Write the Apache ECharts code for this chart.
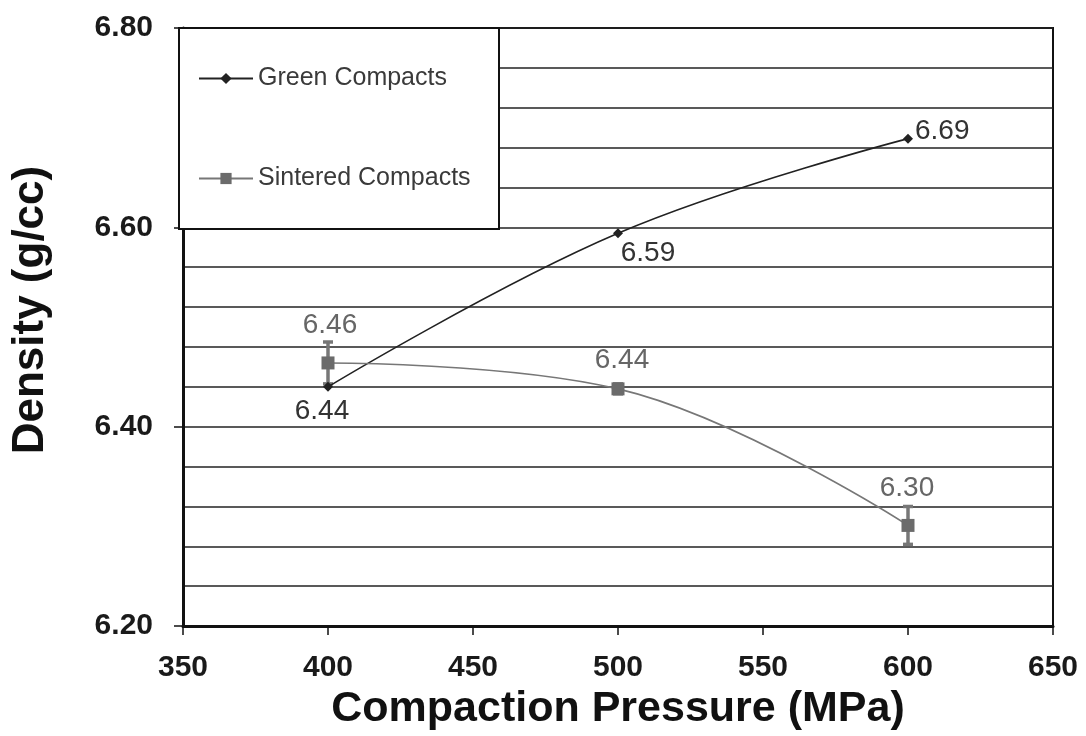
<!DOCTYPE html>
<html><head><meta charset="utf-8">
<script src="https://cdn.jsdelivr.net/npm/echarts@6/dist/echarts.min.js"></script>
<style>html,body{margin:0;padding:0;background:#fff}#c{width:1086px;height:736px}</style>
</head><body><div id="c"></div>
<script>
const pressures = [400, 500, 600];
const greenDensity = [6.44, 6.594, 6.689];
const greenLabels = ['6.44', '6.59', '6.69'];
const sinteredDensity = [6.464, 6.438, 6.301];
const sinteredLabels = ['6.46', '6.44', '6.30'];
const sinteredError = [0.021, 0.005, 0.019];
const seriesNames = ['Green Compacts', 'Sintered Compacts'];
const xTitle = 'Compaction Pressure (MPa)';
const yTitle = 'Density (g/cc)';

const FONT = '"Liberation Sans", Arial, sans-serif';
const greenLabelStyle = [
  {position: 'bottom', distance: 5, offset: [-6, 0]},
  {position: 'bottom', distance: 1, offset: [30, 0]},
  {position: 'right', distance: 2, offset: [0, -7]}
];
const sinteredLabelStyle = [
  {position: 'top', distance: 17, offset: [2, 0]},
  {position: 'top', distance: 8, offset: [4, 0]},
  {position: 'top', distance: 17, offset: [-1, 0]}
];

const chart = echarts.init(document.getElementById('c'));
const greenData = pressures.map((p, i) => ({value: [p, greenDensity[i]], label: Object.assign({formatter: greenLabels[i]}, greenLabelStyle[i])}));
const sinteredData = pressures.map((p, i) => ({value: [p, sinteredDensity[i]], label: Object.assign({formatter: sinteredLabels[i]}, sinteredLabelStyle[i])}));
const errData = pressures.map((p, i) => [p, sinteredDensity[i] - sinteredError[i], sinteredDensity[i] + sinteredError[i]]);

chart.setOption({
  backgroundColor: '#fff',
  animation: false,
  textStyle: {fontFamily: FONT},
  grid: {left: 183, right: 33, top: 28, bottom: 106, show: true, borderColor: '#111', borderWidth: 2, backgroundColor: '#fff'},
  graphic: [{
    type: 'rect', z: 50, left: 178, top: 27,
    shape: {width: 320, height: 201},
    style: {fill: '#fff', stroke: '#111', lineWidth: 2}
  }],
  legend: {
    z: 60, orient: 'vertical', left: 178, top: 27,
    padding: [39, 10, 10, 20], itemGap: 75,
    itemWidth: 54, itemHeight: 14,
    textStyle: {fontFamily: FONT, fontSize: 25, color: '#3a3a3a', lineHeight: 25},
    data: seriesNames
  },
  xAxis: {
    type: 'value', min: 350, max: 650, interval: 50,
    name: xTitle, nameLocation: 'middle', nameGap: 57,
    nameTextStyle: {fontFamily: FONT, fontSize: 43, fontWeight: 'bold', color: '#111'},
    axisLine: {show: true, onZero: false, lineStyle: {color: '#111', width: 3}},
    axisTick: {show: true, length: 9, lineStyle: {color: '#111', width: 1.5}},
    axisLabel: {fontFamily: FONT, fontSize: 30, fontWeight: 'bold', color: '#1a1a1a', margin: 27},
    splitLine: {show: false}
  },
  yAxis: {
    type: 'value', min: 6.2, max: 6.8, interval: 0.2,
    name: yTitle, nameLocation: 'middle', nameGap: 130, nameRotate: 90,
    nameTextStyle: {fontFamily: FONT, fontSize: 44, fontWeight: 'bold', color: '#111', padding: [0, 0, 0, 34]},
    axisLine: {show: true, onZero: false, lineStyle: {color: '#111', width: 3}},
    axisTick: {show: true, length: 9, lineStyle: {color: '#111', width: 1.5}},
    axisLabel: {fontFamily: FONT, fontSize: 30, fontWeight: 'bold', color: '#1a1a1a', margin: 30, formatter: v => v.toFixed(2)},
    splitLine: {show: true, lineStyle: {color: '#222', width: 1.6}},
    minorTick: {show: false, splitNumber: 5},
    minorSplitLine: {show: true, lineStyle: {color: '#222', width: 1.6}}
  },
  series: [
    {
      name: seriesNames[0], type: 'line', smooth: 0.4, z: 5,
      data: greenData,
      symbol: 'diamond', symbolSize: 10,
      lineStyle: {color: '#222', width: 1.6},
      itemStyle: {color: '#222'},
      label: {show: true, fontFamily: FONT, fontSize: 28, color: '#333'}
    },
    {
      name: seriesNames[1], type: 'line', smooth: 0.4, z: 6,
      data: sinteredData,
      symbol: 'rect', symbolSize: 13,
      lineStyle: {color: '#777', width: 1.6},
      itemStyle: {color: '#6b6b6b'},
      label: {show: true, fontFamily: FONT, fontSize: 28, color: '#666'}
    },
    {
      name: 'err', type: 'custom', z: 4,
      data: errData,
      encode: {x: 0, y: [1, 2]},
      renderItem: function (params, api) {
        const x = api.value(0);
        const lo = api.coord([x, api.value(1)]);
        const hi = api.coord([x, api.value(2)]);
        const hw = 5;
        const st = {stroke: '#777', lineWidth: 3.5};
        return {type: 'group', children: [
          {type: 'line', shape: {x1: lo[0], y1: lo[1], x2: hi[0], y2: hi[1]}, style: st},
          {type: 'line', shape: {x1: lo[0] - hw, y1: lo[1], x2: lo[0] + hw, y2: lo[1]}, style: st},
          {type: 'line', shape: {x1: hi[0] - hw, y1: hi[1], x2: hi[0] + hw, y2: hi[1]}, style: st}
        ]};
      }
    }
  ]
});
</script></body></html>
